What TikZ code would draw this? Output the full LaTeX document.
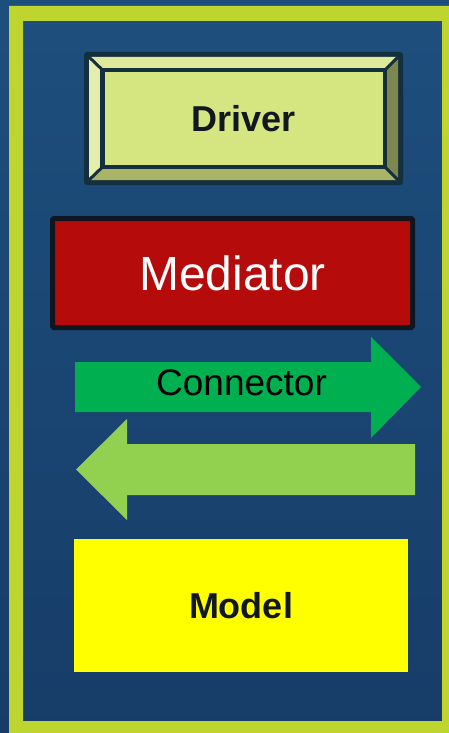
\documentclass[tikz,border=0pt]{standalone}
\usepackage{fontspec}
\setmainfont{Liberation Sans}
\definecolor{bgtop}{HTML}{1D4F7D}
\definecolor{bgbot}{HTML}{173C68}
\definecolor{framegreen}{HTML}{BDD52E}
\definecolor{bevdark}{HTML}{14303F}
\definecolor{drvface}{HTML}{D5E57F}
\definecolor{bevtop}{HTML}{DFE99A}
\definecolor{bevleft}{HTML}{E5EDAE}
\definecolor{bevright}{HTML}{7E8750}
\definecolor{bevbottom}{HTML}{AAB466}
\definecolor{medred}{HTML}{B50B0B}
\definecolor{meddark}{HTML}{10161F}
\definecolor{conngreen}{HTML}{00B050}
\definecolor{backgreen}{HTML}{92D050}
\definecolor{modyellow}{HTML}{FFFF00}
\definecolor{txtdark}{HTML}{111820}
\begin{document}
\begin{tikzpicture}[
   x=1pt,y=-1pt,
   layerbox/.style={inner sep=0pt,outer sep=0pt,align=center},
   layerdriver/.style={layerbox,draw=bevdark,fill=drvface,line width=4.5pt,
     minimum width=282.5pt,minimum height=97pt,text=txtdark,
     font=\fontsize{36}{40}\selectfont\bfseries},
   layermediator/.style={layerbox,draw=meddark,fill=medred,line width=5pt,
     rounded corners=1.5pt,minimum width=360pt,minimum height=109pt,
     text=white,font=\fontsize{48}{52}\selectfont},
   layermodel/.style={layerbox,fill=modyellow,minimum width=334pt,
     minimum height=133pt,text=txtdark,
     font=\fontsize{36}{40}\selectfont\bfseries},
   layerlabel/.style={layerbox,text=black,font=\fontsize{37}{40}\selectfont}
 ]
 \useasboundingbox (0,0) rectangle (449,733);
 \shade[top color=bgtop,bottom color=bgbot] (0,0) rectangle (449,733);
 \fill[framegreen,even odd rule] (9,6) rectangle (449,733) (23,21) rectangle (442,721);
 % Driver key: dark plate, four bevel faces, then the face itself.
 \fill[bevdark,rounded corners=3pt] (84,52) rectangle (403,185);
 \coordinate (o1) at (89,57);    \coordinate (o2) at (398,57);
 \coordinate (o3) at (398,180);  \coordinate (o4) at (89,180);
 \coordinate (i1) at (102.5,70); \coordinate (i2) at (385,70);
 \coordinate (i3) at (385,167);  \coordinate (i4) at (102.5,167);
 \foreach \a/\b/\c/\d/\col in {
   o1/o2/i2/i1/bevtop,o1/i1/i4/o4/bevleft,
   o2/o3/i3/i2/bevright,o4/o3/i3/i4/bevbottom} {
   \fill[\col] (\a) -- (\b) -- (\c) -- (\d) -- cycle;
 }
 \foreach \o/\i in {o1/i1,o2/i2,o3/i3,o4/i4} {
   \draw[bevdark,line width=3pt] (\o) -- (\i);
 }
 \node[layerdriver] (driver) at (243.75,118.5) {Driver};
 \node[layermediator] (mediator) at (232.5,273) {Mediator};
 \fill[conngreen] (75,362) -- (371,362) -- (371,337) -- (421,387)
   -- (371,438) -- (371,412) -- (75,412) -- cycle;
 \node[layerlabel] (connector) at (241.5,383) {Connector};
 \fill[backgreen] (415,444) -- (127,444) -- (127,419) -- (76,469.5)
   -- (127,520) -- (127,495) -- (415,495) -- cycle;
 \node[layermodel] (model) at (241,605.5) {Model};
 \end{tikzpicture}
\end{document}
